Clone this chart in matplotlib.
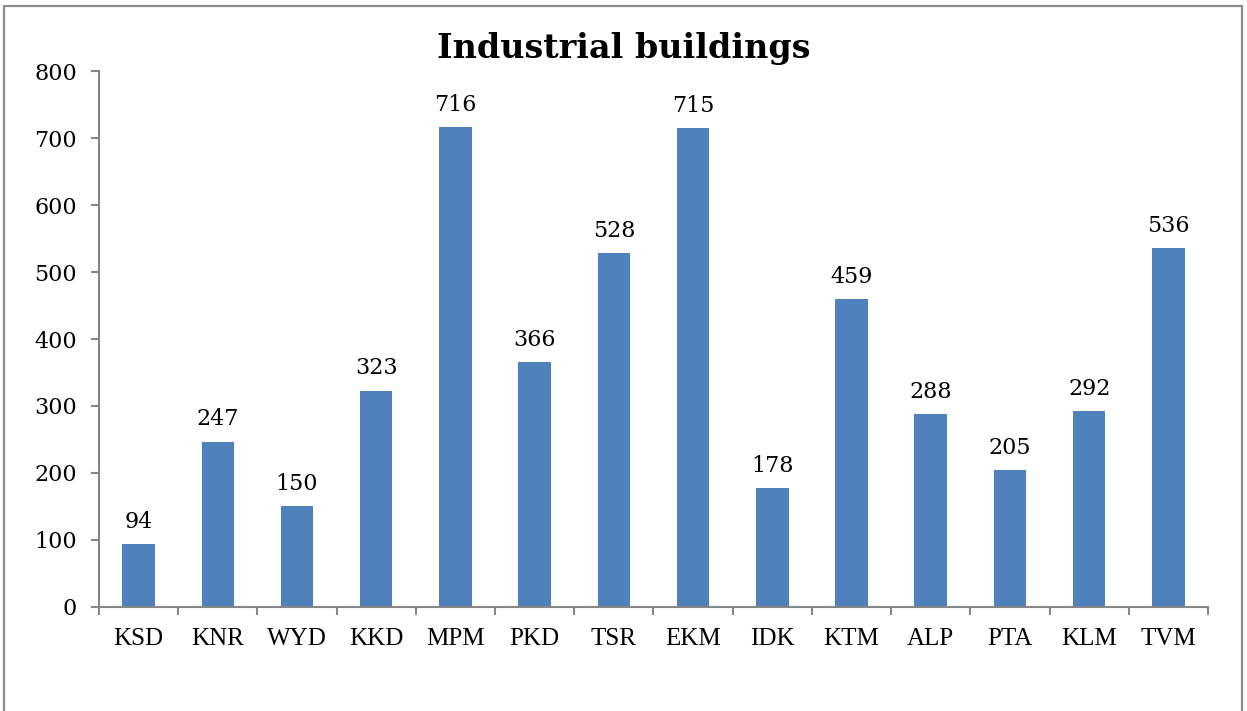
import matplotlib
matplotlib.use("Agg")
import matplotlib.pyplot as plt
from matplotlib.patches import Rectangle

districts = ["KSD", "KNR", "WYD", "KKD", "MPM", "PKD", "TSR",
             "EKM", "IDK", "KTM", "ALP", "PTA", "KLM", "TVM"]
buildings = [94, 247, 150, 323, 716, 366, 528, 715, 178, 459, 288, 205, 292, 536]
y_ticks = [0, 100, 200, 300, 400, 500, 600, 700, 800]

bar_color = "#4F81BD"
axis_color = "#868686"
num_font = ["DejaVu Serif"]

plt.rcParams["font.family"] = ["Liberation Serif", "DejaVu Serif"]

fig = plt.figure(figsize=(12.47, 7.11), dpi=100)
ax = fig.add_axes([0.0794, 0.1463, 0.8893, 0.7538])

x = range(len(districts))
ax.bar(x, buildings, width=0.41, color=bar_color, zorder=2)

for xi, v in zip(x, buildings):
    ax.annotate(str(v), (xi, v), xytext=(0, 8), textcoords="offset points",
                ha="center", va="bottom", fontsize=16, family=num_font)

ax.set_xlim(-0.5, len(districts) - 0.5)
ax.set_ylim(0, 800)
ax.set_yticks(y_ticks)
ax.set_yticklabels([str(t) for t in y_ticks], fontsize=16, family=num_font)

# category labels centred, tick marks on category boundaries
ax.set_xticks(list(x))
ax.set_xticklabels(districts, fontsize=18)
ax.tick_params(axis="x", length=0, pad=15)
ax.set_xticks([i - 0.5 for i in range(len(districts) + 1)], minor=True)
ax.tick_params(axis="x", which="minor", length=6, width=1.5, color=axis_color)
ax.tick_params(axis="y", length=6, width=1.5, color=axis_color, pad=10)

for side in ["top", "right"]:
    ax.spines[side].set_visible(False)
for side in ["left", "bottom"]:
    ax.spines[side].set_color(axis_color)
    ax.spines[side].set_linewidth(1.5)

fig.text(0.5, 0.932, "Industrial buildings", ha="center", va="center",
         fontsize=24, fontweight="bold", family=num_font)

# chart-area border, bottom edge falls off the image
border = Rectangle((0.0032, -0.1), 0.9928, 1.0916, transform=fig.transFigure,
                   fill=False, edgecolor="#8c8c8c", linewidth=1.6, clip_on=False)
fig.patches.append(border)

fig.savefig("out.png", dpi=100)
